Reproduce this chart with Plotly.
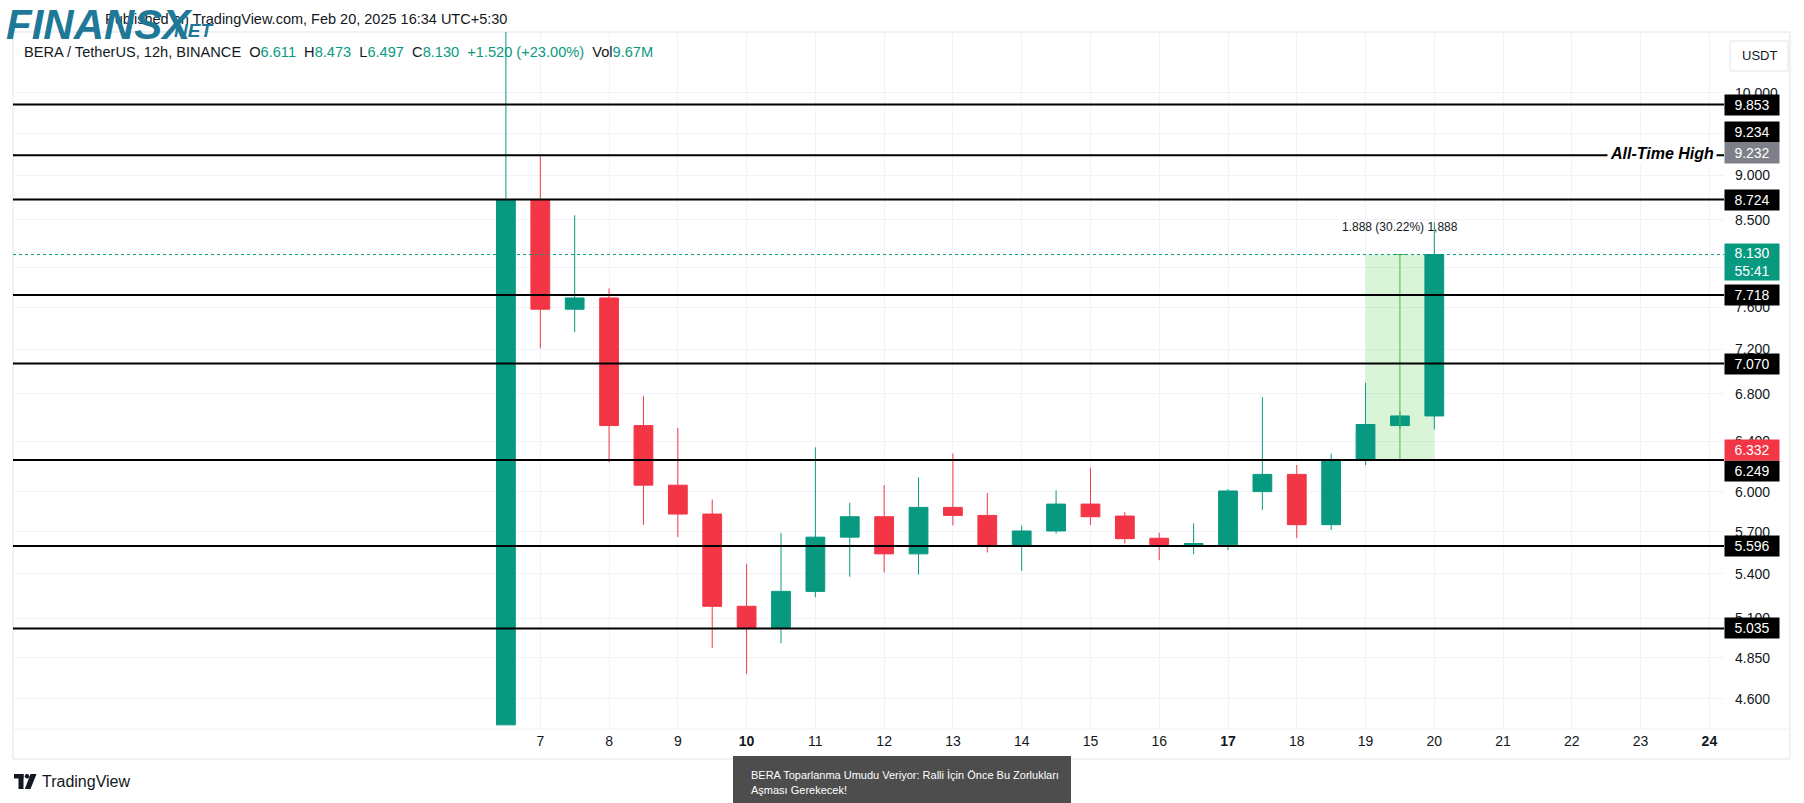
import math
import pandas as pd
import plotly.graph_objects as go

# ---------------- data ----------------
candle_times = [
    "2025-02-06 12:00", "2025-02-07 00:00", "2025-02-07 12:00", "2025-02-08 00:00",
    "2025-02-08 12:00", "2025-02-09 00:00", "2025-02-09 12:00", "2025-02-10 00:00",
    "2025-02-10 12:00", "2025-02-11 00:00", "2025-02-11 12:00", "2025-02-12 00:00",
    "2025-02-12 12:00", "2025-02-13 00:00", "2025-02-13 12:00", "2025-02-14 00:00",
    "2025-02-14 12:00", "2025-02-15 00:00", "2025-02-15 12:00", "2025-02-16 00:00",
    "2025-02-16 12:00", "2025-02-17 00:00", "2025-02-17 12:00", "2025-02-18 00:00",
    "2025-02-18 12:00", "2025-02-19 00:00", "2025-02-19 12:00", "2025-02-20 00:00",
]
opens = [4.45, 8.72, 7.58, 7.69, 6.53, 6.05, 5.83, 5.18, 5.04, 5.28, 5.66, 5.81, 5.54, 5.88,
         5.82, 5.60, 5.705, 5.905, 5.815, 5.652, 5.605, 5.605, 6.00, 6.134, 5.751, 6.249, 6.53, 6.611]
highs = [14.80, 9.234, 8.55, 7.785, 6.78, 6.51, 5.94, 5.47, 5.69, 6.35, 5.915, 6.05, 6.11, 6.30,
         5.99, 5.745, 6.01, 6.186, 5.845, 5.693, 5.761, 6.02, 6.772, 6.208, 6.299, 6.897, 6.65, 8.473]
lows = [4.45, 7.21, 7.36, 6.23, 5.75, 5.66, 4.91, 4.75, 4.94, 5.24, 5.38, 5.41, 5.395, 5.745,
        5.55, 5.42, 5.686, 5.749, 5.614, 5.495, 5.537, 5.566, 5.861, 5.654, 5.712, 6.208, 6.50, 6.497]
closes = [8.72, 7.58, 7.69, 6.53, 6.05, 5.83, 5.18, 5.04, 5.28, 5.66, 5.81, 5.54, 5.88, 5.82,
          5.60, 5.705, 5.905, 5.81, 5.649, 5.607, 5.614, 6.005, 6.134, 5.751, 6.240, 6.539, 6.611, 8.130]

levels = [9.853, 9.234, 8.724, 7.718, 7.070, 6.249, 5.596, 5.035]
ath_price = 9.232
marker_price = 6.332
last_price = 8.130
countdown = "55:41"

measure_times = ["2025-02-19 00:00", "2025-02-20 00:00"]
measure_prices = [6.242, 8.130]
measure_text = "1.888 (30.22%) 1,888"

y_ticks = [10.0, 9.5, 9.0, 8.5, 8.0, 7.6, 7.2, 6.8, 6.4, 6.0, 5.7, 5.4, 5.1, 4.85, 4.6]
x_tick_days = list(range(7, 25))

legend_values = [("O", "6.611"), ("H", "8.473"), ("L", "6.497"), ("C", "8.130")]
legend_change = "+1.520 (+23.00%)"
legend_vol = "9.67M"

# ---------------- geometry / style ----------------
W, H = 1804, 803
PL, PR, PT, PB = 13, 1724, 32, 729
DARK = "#131722"
TEAL = "#089981"
RED = "#f23645"
FONT = "Liberation Sans, Arial, sans-serif"
NARROW = "Liberation Sans Narrow, Liberation Sans, Arial, sans-serif"


def price_at_px(Y):
    return math.exp(math.log(9.0) - (Y - 175.2) / 780.4)


def time_at_px(X):
    return pd.Timestamp("2025-02-07") + pd.Timedelta(days=(X - 540.3) / 68.77)


def fx(X):
    return (X - PL) / (PR - PL)


def fy(Y):
    return (PB - Y) / (PB - PT)


yr = [math.log10(price_at_px(PB)), math.log10(price_at_px(PT))]
xr = [time_at_px(PL).isoformat(), time_at_px(PR).isoformat()]

fig = go.Figure()
fig.add_trace(go.Candlestick(
    x=pd.to_datetime(candle_times), open=opens, high=highs, low=lows, close=closes,
    increasing=dict(fillcolor=TEAL, line=dict(color=TEAL, width=1)),
    decreasing=dict(fillcolor=RED, line=dict(color=RED, width=1)),
    whiskerwidth=0, showlegend=False, hoverinfo="skip",
))

tick_dates = [pd.Timestamp(2025, 2, d) for d in x_tick_days]
tick_text = [f"<b>{d.day}</b>" if d.weekday() == 0 else str(d.day) for d in tick_dates]

shapes = []
# frame
shapes.append(dict(type="rect", xref="paper", yref="paper", x0=fx(13), x1=fx(1790), y0=fy(759), y1=fy(32),
                   line=dict(color="#e0e3eb", width=1), layer="below"))
shapes.append(dict(type="line", xref="paper", yref="paper", x0=fx(13), x1=fx(1790), y0=0, y1=0,
                   line=dict(color="#eef0f4", width=1), layer="below"))
# measure rectangle
shapes.append(dict(type="rect", xref="x", yref="y", x0=measure_times[0], x1=measure_times[1],
                   y0=measure_prices[0], y1=measure_prices[1], fillcolor="rgba(70,200,60,0.2)",
                   line=dict(width=0), layer="between"))
# measure arrow line
mid_t = (pd.Timestamp(measure_times[0]) + (pd.Timestamp(measure_times[1]) - pd.Timestamp(measure_times[0])) / 2).isoformat()
ARROW = "#4cbb4c"
shapes.append(dict(type="line", xref="x", yref="y", x0=mid_t, x1=mid_t, y0=measure_prices[0], y1=measure_prices[1],
                   line=dict(color=ARROW, width=1), layer="above"))
for sx in (-6, 6):
    shapes.append(dict(type="line", xref="x", yref="y", xsizemode="pixel", ysizemode="pixel",
                       xanchor=mid_t, yanchor=measure_prices[1], x0=0, x1=sx, y0=0, y1=-6,
                       line=dict(color=ARROW, width=1), layer="above"))
# price level lines
for lv in levels:
    shapes.append(dict(type="line", xref="paper", yref="y", x0=0, x1=1, y0=lv, y1=lv,
                       line=dict(color="black", width=2), layer="above"))
# current price dotted line
shapes.append(dict(type="line", xref="paper", yref="y", x0=0, x1=1, y0=last_price, y1=last_price,
                   line=dict(color=TEAL, width=1, dash="dot"), layer="above"))
# USDT box
shapes.append(dict(type="rect", xref="paper", yref="paper", x0=fx(1730), x1=fx(1788), y0=fy(71), y1=fy(41),
                   line=dict(color="#e0e3eb", width=1), fillcolor="white"))
# caption box
shapes.append(dict(type="rect", xref="paper", yref="paper", x0=fx(733), x1=fx(1071), y0=fy(803), y1=fy(756),
                   line=dict(width=0), fillcolor="#4d4d4d"))
# TradingView icon
shapes.append(dict(type="rect", xref="paper", yref="paper", x0=fx(14), x1=fx(23.5), y0=fy(778.5), y1=fy(774),
                   line=dict(width=0), fillcolor=DARK))
shapes.append(dict(type="rect", xref="paper", yref="paper", x0=fx(18.5), x1=fx(23.5), y0=fy(789), y1=fy(774),
                   line=dict(width=0), fillcolor=DARK))
shapes.append(dict(type="circle", xref="paper", yref="paper", x0=fx(24.8), x1=fx(29.3), y0=fy(778.6), y1=fy(774.1),
                   line=dict(width=0), fillcolor=DARK))
path = "M {} {} L {} {} L {} {} L {} {} Z".format(fx(30.5), fy(774), fx(36.5), fy(774), fx(30.5), fy(789), fx(24.8), fy(789))
shapes.append(dict(type="path", xref="paper", yref="paper", path=path, line=dict(width=0), fillcolor=DARK))

ann = []
# published line
ann.append(dict(xref="paper", yref="paper", x=fx(509), y=fy(19), xanchor="right", yanchor="middle",
                text="Published on TradingView.com, Feb 20, 2025 16:34 UTC+5:30", showarrow=False,
                font=dict(family=FONT, size=14.5, color=DARK)))
# logo
ann.append(dict(xref="paper", yref="paper", x=fx(4), y=fy(24), xanchor="left", yanchor="middle",
                text="<b><i>FINANSX</i></b>", showarrow=False,
                font=dict(family=NARROW, size=42, color="#1f7898")))
ann.append(dict(xref="paper", yref="paper", x=fx(172), y=fy(31), xanchor="left", yanchor="middle",
                text="<b><i>NET</i></b>", showarrow=False,
                font=dict(family=NARROW, size=19, color="#1f7898")))
# legend line
sp = "\u00a0\u00a0"
leg = "BERA / TetherUS, 12h, BINANCE" + sp
leg += sp.join(f"{k}<span style='color:{TEAL}'>{v}</span>" for k, v in legend_values)
leg += sp + f"<span style='color:{TEAL}'>{legend_change}</span>" + sp + f"Vol<span style='color:{TEAL}'>{legend_vol}</span>"
ann.append(dict(xref="paper", yref="paper", x=fx(22), y=fy(52), xanchor="left", yanchor="middle",
                text=leg, showarrow=False, font=dict(family=FONT, size=14.6, color=DARK)))
# USDT
ann.append(dict(xref="paper", yref="paper", x=fx(1759), y=fy(56), xanchor="center", yanchor="middle",
                text="USDT", showarrow=False, font=dict(family=FONT, size=13, color=DARK)))

# price axis labels
LX = fx(1752)
label_specs = [(lv, "black", "white", 0) for lv in levels]
label_specs[1] = (levels[1], "black", "white", 23)
label_specs[5] = (levels[5], "black", "white", -11)
label_specs.append((ath_price, "#7d8088", "white", 2))
label_specs.append((marker_price, RED, "white", 0))
for v, bg, fg, ys in label_specs:
    ann.append(dict(xref="paper", yref="y", x=LX, y=math.log10(v), xanchor="center", yanchor="middle",
                    text=f"{v:.3f}", showarrow=False, bgcolor=bg, width=50, height=16, borderpad=2,
                    yshift=ys, font=dict(family=FONT, size=14, color=fg)))
ann.append(dict(xref="paper", yref="y", x=LX, y=math.log10(last_price), xanchor="center", yanchor="top",
                text=f"{last_price:.3f}<br>{countdown}", showarrow=False, bgcolor=TEAL, width=50, height=32,
                borderpad=2, yshift=12, font=dict(family=FONT, size=14, color="white")))

# All-Time High
ann.append(dict(xref="paper", yref="y", x=fx(1717), y=math.log10(ath_price), xanchor="right", yanchor="middle",
                text="<b><i>All-Time High</i></b>", showarrow=False, bgcolor="white", borderpad=2, yshift=2,
                font=dict(family=FONT, size=16, color="black")))
# measure text
ann.append(dict(xref="x", yref="y", x=mid_t, y=math.log10(measure_prices[1]), xanchor="center", yanchor="bottom",
                text=measure_text, showarrow=False, yshift=19, font=dict(family=FONT, size=12, color=DARK)))

# footer
ann.append(dict(xref="paper", yref="paper", x=fx(40), y=fy(781), xanchor="left", yanchor="middle",
                text="TradingView", showarrow=False, font=dict(family=FONT, size=16, color=DARK)))
ann.append(dict(xref="paper", yref="paper", x=fx(749), y=fy(775), xanchor="left", yanchor="middle",
                text="BERA Toparlanma Umudu Veriyor: Ralli İçin Önce Bu Zorlukları", showarrow=False,
                font=dict(family=NARROW, size=11, color="white")))
ann.append(dict(xref="paper", yref="paper", x=fx(749), y=fy(790), xanchor="left", yanchor="middle",
                text="Aşması Gerekecek!", showarrow=False,
                font=dict(family=NARROW, size=11, color="white")))

fig.update_layout(
    width=W, height=H, autosize=False,
    margin=dict(l=PL, r=W - PR, t=PT, b=H - PB, pad=0),
    paper_bgcolor="white", plot_bgcolor="white",
    boxgap=0.22,
    showlegend=False,
    shapes=shapes, annotations=ann,
    xaxis=dict(type="date", range=xr, rangeslider=dict(visible=False), tickmode="array",
               tickvals=tick_dates, ticktext=tick_text, showgrid=True, gridcolor="#f0f3fa", gridwidth=1,
               zeroline=False, showline=False, ticks="", ticklabelstandoff=2,
               tickfont=dict(family=FONT, size=14, color=DARK)),
    yaxis=dict(type="log", side="right", range=yr, tickmode="array", tickvals=y_ticks,
               ticktext=[f"{v:.3f}" for v in y_ticks], showgrid=True, gridcolor="#f0f3fa", gridwidth=1,
               zeroline=False, showline=False, ticks="", ticklabelstandoff=10,
               tickfont=dict(family=FONT, size=14, color=DARK)),
    hovermode=False,
)

fig.write_html("out.html")
